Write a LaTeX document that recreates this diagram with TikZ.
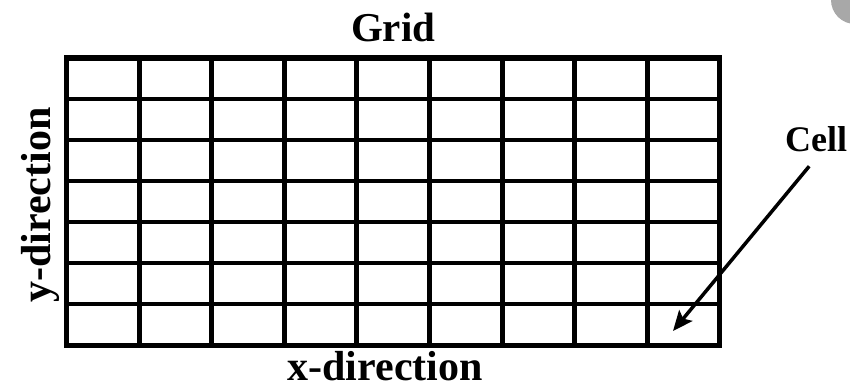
\documentclass[tikz,border=0pt]{standalone}
\usepackage{fontspec}
\setmainfont{Liberation Serif}
\usetikzlibrary{arrows.meta, positioning, calc}

\begin{document}
\begin{tikzpicture}[
    x=1pt, y=1pt,
    gridframe/.style={rectangle, draw, line width=5.5pt, inner sep=0pt, outer sep=0pt,
                      minimum width=653pt, minimum height=287.7pt},
    vline/.style={line width=5pt},
    hline/.style={line width=4pt},
    heading/.style={inner sep=0pt, font=\fontsize{42}{42}\selectfont\bfseries},
    pointer/.style={-{Stealth[length=20pt, width=17pt, inset=4pt]}, line width=3.5pt}
]
    \useasboundingbox (0,0) rectangle (850,385);
    \fill[black!34] (855,385) circle (24);

    \node[gridframe] (grid) at (393.2,183.35) {};
    \foreach \i in {1,...,8}
        \draw[vline] ($(grid.south west)+(\i*72.56,0)$) -- ($(grid.north west)+(\i*72.56,0)$);
    \foreach \j in {1,...,6}
        \draw[hline] ($(grid.south west)+(0,\j*41.1)$) -- ($(grid.south east)+(0,\j*41.1)$);

    \node[heading, font=\fontsize{41}{41}\selectfont\bfseries, above=16pt of grid] (title) {Grid};
    \node[heading, below=5.5pt of grid, xshift=-8pt] (xdir) {x-direction};
    \node[heading, rotate=90, anchor=base] (ydir) at ([xshift=-16.7pt, yshift=-3.35pt]grid.west) {y-direction};
    \node[heading, font=\fontsize{36}{36}\selectfont\bfseries, anchor=base west] (cell)
        at ([xshift=65.3pt, yshift=49.95pt]grid.east) {Cell};

    \coordinate (lastcell) at (673,54);
    \draw[pointer] ([xshift=-7pt, yshift=-14pt]cell.south) -- (lastcell);
\end{tikzpicture}
\end{document}
